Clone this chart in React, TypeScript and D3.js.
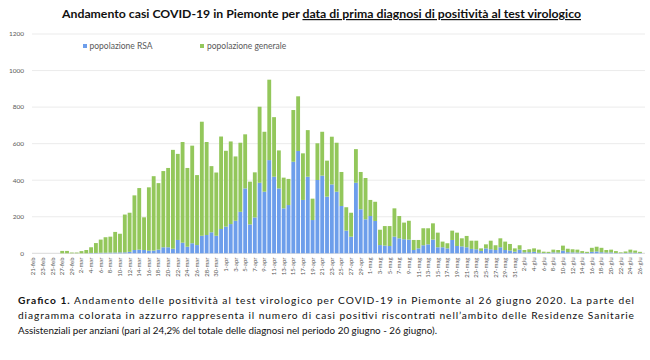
import React from 'react';
import * as d3 from 'd3';

const monthNames = ['gen', 'feb', 'mar', 'apr', 'mag', 'giu'];
const dates: string[] = d3.timeDay
  .range(new Date(2020, 1, 21), new Date(2020, 5, 27))
  .map((d) => `${d.getDate()}-${monthNames[d.getMonth()]}`);

const rsa = [
  0, 0, 0, 0, 0, 0, 0, 0, 0, 0,
  0, 0, 2, 2, 3, 3, 4, 4, 5, 5,
  8, 18, 20, 18, 14, 15, 20, 33, 33, 25,
  73, 58, 36, 55, 45, 96, 100, 115, 96, 133,
  146, 160, 178, 227, 355, 158, 196, 386, 337, 510,
  419, 355, 246, 264, 501, 560, 292, 419, 182, 401,
  425, 310, 377, 337, 259, 124, 91, 386, 241, 186,
  204, 177, 45, 42, 40, 91, 82, 77, 75, 18,
  27, 44, 49, 75, 33, 33, 27, 73, 40, 38,
  33, 24, 22, 13, 27, 22, 18, 33, 18, 15,
  9, 20, 5, 6, 8, 3, 2, 2, 5, 4,
  15, 6, 5, 4, 2, 2, 8, 10, 6, 4,
  5, 2, 1, 2, 4, 3, 2,
];

const generale = [
  0, 0, 0, 0, 0, 0, 13, 13, 4, 4,
  12, 18, 31, 54, 72, 85, 87, 113, 102, 207,
  214, 299, 337, 179, 347, 407, 364, 417, 434, 541,
  471, 551, 431, 534, 383, 624, 509, 362, 346, 506,
  415, 452, 352, 378, 296, 234, 247, 416, 328, 440,
  326, 208, 168, 143, 283, 299, 255, 255, 117, 201,
  240, 197, 261, 268, 186, 128, 131, 184, 204, 226,
  88, 105, 84, 107, 109, 155, 122, 91, 103, 55,
  46, 93, 88, 89, 80, 31, 28, 51, 73, 44,
  62, 45, 47, 14, 22, 47, 26, 49, 46, 36,
  18, 24, 13, 16, 19, 17, 7, 6, 15, 14,
  27, 19, 17, 16, 10, 6, 22, 26, 24, 14,
  15, 10, 4, 8, 16, 12, 6,
];

const yTicks = [0, 200, 400, 600, 800, 1000, 1200];
const seriesNames = ['popolazione RSA', 'popolazione generale'];
const colors = ['#6d9eeb', '#93c75b'];

const titleA = 'Andamento casi COVID-19 in Piemonte per ';
const titleB = 'data di prima diagnosi di positività al test virologico';
const capLine1Bold = 'Grafico 1.';
const capLine1 = ' Andamento delle positività al test virologico per COVID-19 in Piemonte al 26 giugno 2020. La parte del';
const capLine2 = 'diagramma colorata in azzurro rappresenta il numero di casi positivi riscontrati nell’ambito delle Residenze Sanitarie';
const capLine3 = 'Assistenziali per anziani (pari al 24,2% del totale delle diagnosi nel periodo 20 giugno - 26 giugno).';

export default function App() {
  const W = 650;
  const H = 360;
  const x = d3.scaleBand<string>().domain(dates).range([30.9, 642.4]).paddingInner(0.2).paddingOuter(0.1);
  const y = d3.scaleLinear().domain([0, 1200]).range([253.3, 34]);
  const font = 'Lato, "Open Sans", sans-serif';

  return (
    <svg
      width={W}
      height={H}
      style={{ position: 'absolute', left: 0, top: 0, background: '#fff' }}
      fontFamily={font}
    >
      <rect width={W} height={H} fill="#fff" />
      {/* title */}
      <text x={62} y={18} fontSize={12} fontWeight="bold" fill="#111" textLength={519} lengthAdjust="spacingAndGlyphs">
        <tspan>{titleA}</tspan>
        <tspan style={{ textDecoration: 'underline' }}>{titleB}</tspan>
      </text>

      {/* gridlines and y labels */}
      {yTicks.map((t) => (
        <g key={t}>
          <line x1={32} x2={645} y1={y(t)} y2={y(t)} stroke={t === 0 ? '#d0d0d0' : '#e6e6e6'} strokeWidth={0.8} />
          <text x={24} y={y(t) + 2.3} fontSize={6.5} textAnchor="end" fill="#595959">
            {t}
          </text>
        </g>
      ))}

      {/* bars */}
      {dates.map((d, i) => {
        const bx = x(d)!;
        const bw = x.bandwidth();
        const r = rsa[i];
        const g = generale[i];
        return (
          <g key={d}>
            {r > 0 && <rect x={bx} width={bw} y={y(r)} height={y(0) - y(r)} fill={colors[0]} />}
            {g > 0 && <rect x={bx} width={bw} y={y(r + g)} height={y(r) - y(r + g)} fill={colors[1]} />}
          </g>
        );
      })}

      {/* x labels */}
      {dates.map((d, i) =>
        i % 2 === 0 ? (
          <text
            key={d}
            transform={`translate(${x(d)! + x.bandwidth() / 2 + 2},257.5) rotate(-90)`}
            fontSize={6}
            textAnchor="end"
            fill="#595959"
          >
            {d}
          </text>
        ) : null
      )}

      {/* legend */}
      <rect x={83} y={44} width={4} height={4} fill={colors[0]} />
      <text x={89.5} y={49} fontSize={8.5} fill="#595959">{seriesNames[0]}</text>
      <rect x={200} y={44} width={4} height={4} fill={colors[1]} />
      <text x={207} y={49} fontSize={8.5} fill="#595959">{seriesNames[1]}</text>

      {/* caption */}
      <text x={18} y={304} fontSize={10.2} fill="#111" textLength={616} lengthAdjust="spacing">
        <tspan fontWeight="bold">{capLine1Bold}</tspan>
        <tspan>{capLine1}</tspan>
      </text>
      <text x={18} y={319} fontSize={10.2} fill="#111" textLength={616} lengthAdjust="spacing">
        {capLine2}
      </text>
      <text x={18} y={334} fontSize={10.2} fill="#111" textLength={419} lengthAdjust="spacingAndGlyphs">
        {capLine3}
      </text>
    </svg>
  );
}
